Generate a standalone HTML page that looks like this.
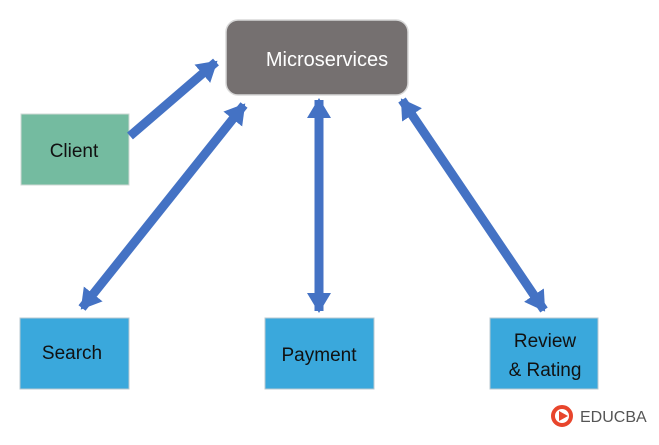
<!DOCTYPE html>
<html><head><style>
body{margin:0;background:#fff;width:659px;height:440px;overflow:hidden;font-family:"Liberation Sans",sans-serif;}
</style></head><body>
<svg width="659" height="440" viewBox="0 0 659 440" xmlns="http://www.w3.org/2000/svg">
<defs>
<marker id="a" markerUnits="userSpaceOnUse" markerWidth="26" markerHeight="26" refX="18" refY="13" orient="auto-start-reverse" viewBox="0 0 26 26">
<path d="M0,1 L20,13 L0,25 Z" fill="#4472c4"/>
</marker>
</defs>
<rect x="226" y="20" width="182" height="75" rx="12" fill="#757070" stroke="#d8d8d8" stroke-width="1.5"/>
<text x="327" y="66" font-size="20" fill="#fff" text-anchor="middle">Microservices</text>
<rect x="21" y="114" width="108" height="71" fill="#74bba0" stroke="#cfd8d4"/>
<text x="74" y="157" font-size="19" fill="#111" text-anchor="middle">Client</text>
<rect x="20" y="318" width="109" height="71" fill="#3aa8dc" stroke="#b8c8d0"/>
<text x="72" y="359" font-size="19" fill="#111" text-anchor="middle">Search</text>
<rect x="265" y="318" width="109" height="71" fill="#3aa8dc" stroke="#b8c8d0"/>
<text x="319" y="361" font-size="19" fill="#111" text-anchor="middle">Payment</text>
<rect x="490" y="318" width="108" height="71" fill="#3aa8dc" stroke="#b8c8d0"/>
<text x="545" y="347" font-size="19" fill="#111" text-anchor="middle">Review</text>
<text x="545" y="376" font-size="19" fill="#111" text-anchor="middle">&amp; Rating</text>
<g stroke="#4472c4" stroke-width="9" fill="none">
<line x1="130" y1="136" x2="216" y2="62" marker-end="url(#a)"/>
<line x1="82" y1="308" x2="244" y2="105" marker-start="url(#a)" marker-end="url(#a)"/>
<line x1="319" y1="100" x2="319" y2="311" marker-start="url(#a)" marker-end="url(#a)"/>
<line x1="402" y1="100" x2="544" y2="310" marker-start="url(#a)" marker-end="url(#a)"/>
</g>
<g transform="translate(562,416)">
<circle r="9" fill="none" stroke="#e8452c" stroke-width="4"/>
<path d="M-3,-5 L6,0 L-3,5 Z" fill="#e8452c"/>
</g>
<text x="580" y="422" font-size="16" fill="#555">EDUCBA</text>
</svg>
</body></html>
